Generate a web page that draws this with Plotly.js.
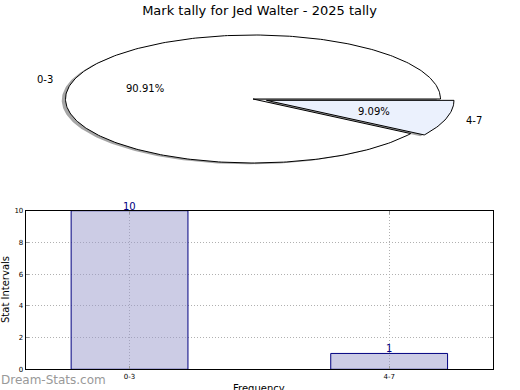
<!DOCTYPE html>
<html>
<head>
<meta charset="utf-8">
<script src="https://cdn.plot.ly/plotly-3.0.1.min.js"></script>
<style>
html,body{margin:0;padding:0;background:#fff;}
#chart{width:520px;height:390px;}
</style>
</head>
<body>
<div id="chart"></div>
<script>
// ---- data ----
const categories = ['0-3', '4-7'];
const counts = [10, 1];
const yTicks = [0, 2, 4, 6, 8, 10];
const chartTitle = 'Mark tally for Jed Walter - 2025 tally';
const yTitle = 'Stat Intervals';
const xTitle = 'Frequency';
const watermark = 'Dream-Stats.com';

// ---- styles / layout constants ----
const W = 520, H = 390;
const FONT = 'DejaVu Sans, sans-serif';
const sliceColors = ['#ffffff', '#ebf1fd'];
const explode = [0, 0.075];
const barFill = 'rgba(153,153,204,0.5)';
const barEdge = '#000080';

// pie geometry (pixels): centre and radii
const PCX = 253, PCY = 99, RX = 187.5, RY = 64;
const pieTop = 20, pieBottom = 180;

const total = counts.reduce((a, b) => a + b, 0);
const traces = [];

function wedge(t1, t2, ox, oy) {
  const xs = [ox], ys = [oy];
  const n = Math.max(4, Math.ceil((t2 - t1) / 1.0));
  for (let i = 0; i <= n; i++) {
    const a = (t1 + (t2 - t1) * i / n) * Math.PI / 180;
    xs.push(ox + Math.cos(a));
    ys.push(oy + Math.sin(a));
  }
  xs.push(ox); ys.push(oy);
  return {xs, ys};
}

// compute angles
const angles = [];
let acc = 0;
counts.forEach(c => {
  const t1 = acc / total * 360;
  acc += c;
  const t2 = acc / total * 360;
  angles.push([t1, t2]);
});

// shadows first
angles.forEach(([t1, t2], i) => {
  const mid = (t1 + t2) / 2 * Math.PI / 180;
  const ox = explode[i] * Math.cos(mid) - 0.02;
  const oy = explode[i] * Math.sin(mid) - 0.02;
  const w = wedge(t1, t2, ox, oy);
  traces.push({
    type: 'scatter', mode: 'lines', x: w.xs, y: w.ys, xaxis: 'x2', yaxis: 'y2',
    fill: 'toself', fillcolor: 'rgba(77,77,77,0.5)', line: {width: 0, color: 'rgba(0,0,0,0)'},
    hoverinfo: 'skip', showlegend: false
  });
});
// wedges
angles.forEach(([t1, t2], i) => {
  const mid = (t1 + t2) / 2 * Math.PI / 180;
  const ox = explode[i] * Math.cos(mid);
  const oy = explode[i] * Math.sin(mid);
  const w = wedge(t1, t2, ox, oy);
  traces.push({
    type: 'scatter', mode: 'lines', x: w.xs, y: w.ys, xaxis: 'x2', yaxis: 'y2',
    fill: 'toself', fillcolor: sliceColors[i], line: {width: 1, color: '#000'},
    hoverinfo: 'skip', showlegend: false
  });
});

// bar trace
traces.push({
  type: 'bar', x: categories, y: counts, width: 0.45,
  marker: {color: barFill, line: {color: barEdge, width: 1}},
  hoverinfo: 'skip', showlegend: false
});

const annotations = [];
angles.forEach(([t1, t2], i) => {
  const mid = (t1 + t2) / 2 * Math.PI / 180;
  const c = Math.cos(mid), s = Math.sin(mid);
  const ox = explode[i] * c, oy = explode[i] * s;
  annotations.push({
    xref: 'x2', yref: 'y2', x: ox + 1.1 * c, y: oy + 1.1 * s,
    text: categories[i], showarrow: false, xanchor: c < 0 ? 'right' : 'left', yanchor: 'middle',
    font: {family: FONT, size: 10, color: '#000'}
  });
  annotations.push({
    xref: 'x2', yref: 'y2', x: ox + 0.6 * c, y: oy + 0.6 * s,
    text: (counts[i] / total * 100).toFixed(2) + '%', showarrow: false,
    xanchor: 'center', yanchor: 'middle',
    font: {family: FONT, size: 10, color: '#000'}
  });
});
// bar value labels
categories.forEach((cat, i) => {
  annotations.push({
    xref: 'x', yref: 'y', x: cat, y: counts[i], text: String(counts[i]),
    showarrow: false, xanchor: 'center', yanchor: 'bottom', yshift: -3,
    font: {family: FONT, size: 10, color: barEdge}
  });
});
// axis titles and watermark
annotations.push({
  xref: 'paper', yref: 'paper', x: 5 / W, y: (H - 290) / H, text: yTitle, textangle: -90,
  showarrow: false, xanchor: 'center', yanchor: 'middle',
  font: {family: FONT, size: 10, color: '#000'}
});
annotations.push({
  xref: 'paper', yref: 'paper', x: 259 / W, y: (H - 381) / H, text: xTitle,
  showarrow: false, xanchor: 'center', yanchor: 'top',
  font: {family: FONT, size: 10, color: '#000'}
});
annotations.push({
  xref: 'paper', yref: 'paper', x: -1 / W, y: (H - 380) / H, text: watermark,
  showarrow: false, xanchor: 'left', yanchor: 'middle',
  font: {family: FONT, size: 12, color: '#999999'}
});

const axCommon = {
  showline: true, linecolor: '#000', linewidth: 1, mirror: 'allticks',
  ticks: 'inside', ticklen: 3, tickcolor: '#999', tickwidth: 1,
  showgrid: true, gridcolor: '#b0b0b0', griddash: '1px,2px', gridwidth: 1,
  zeroline: false, fixedrange: true,
  tickfont: {family: FONT, size: 7, color: '#000'}
};

const layout = {
  width: W, height: H,
  margin: {l: 0, r: 0, t: 0, b: 0, pad: 0},
  paper_bgcolor: '#fff', plot_bgcolor: 'rgba(0,0,0,0)',
  font: {family: FONT},
  title: {
    text: chartTitle, x: 259.5 / W, xanchor: 'center', y: 1 - 10 / H, yanchor: 'middle',
    font: {family: FONT, size: 13, color: '#000'}
  },
  xaxis: Object.assign({}, axCommon, {
    domain: [25.7 / W, 493 / W], range: [-0.4, 1.4], type: 'category',
    anchor: 'y'
  }),
  yaxis: Object.assign({}, axCommon, {
    domain: [20.7 / H, 179.3 / H], range: [0, 10], tickvals: yTicks,
    anchor: 'x'
  }),
  xaxis2: {
    domain: [0, 1], range: [-PCX / RX, (W - PCX) / RX], visible: false, fixedrange: true, anchor: 'y2'
  },
  yaxis2: {
    domain: [(H - pieBottom) / H, (H - pieTop) / H],
    range: [-(pieBottom - PCY) / RY, (PCY - pieTop) / RY], visible: false, fixedrange: true, anchor: 'x2'
  },
  annotations: annotations,
  showlegend: false
};

Plotly.newPlot('chart', traces, layout, {staticPlot: true, displayModeBar: false});
</script>
</body>
</html>
